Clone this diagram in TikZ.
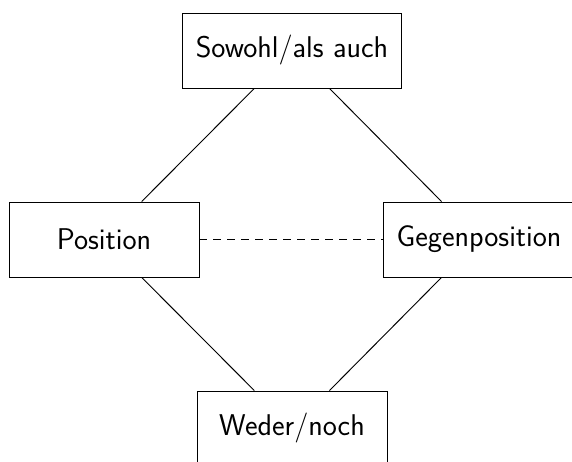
\documentclass[tikz,border=0pt]{standalone}
\begin{document}
\begin{tikzpicture}[x=1pt,y=1pt,
  line width=0.95pt,
  box/.style={draw, rectangle, minimum width=190pt, minimum height=75pt,
    inner xsep=13.5pt, font=\sffamily\fontsize{30}{36}\selectfont},
  link/.style={draw},
  dashlink/.style={draw, dash pattern=on 8pt off 6pt}]
\useasboundingbox (0,0) rectangle (572,462);
\node[box] (top) at (292,411.5) {Sowohl/als auch};
\node[box] (left) at (104,222.5) {Position};
\node[box] (right) at (479,222.5) {Gegenposition};
\node[box] (bottom) at (292,33.5) {Weder/noch};
\path[link] (top) -- (left);
\path[link] (top) -- (right);
\path[link] (left) -- (bottom);
\path[link] (right) -- (bottom);
\path[dashlink] (left) -- (right);
\end{tikzpicture}
\end{document}
